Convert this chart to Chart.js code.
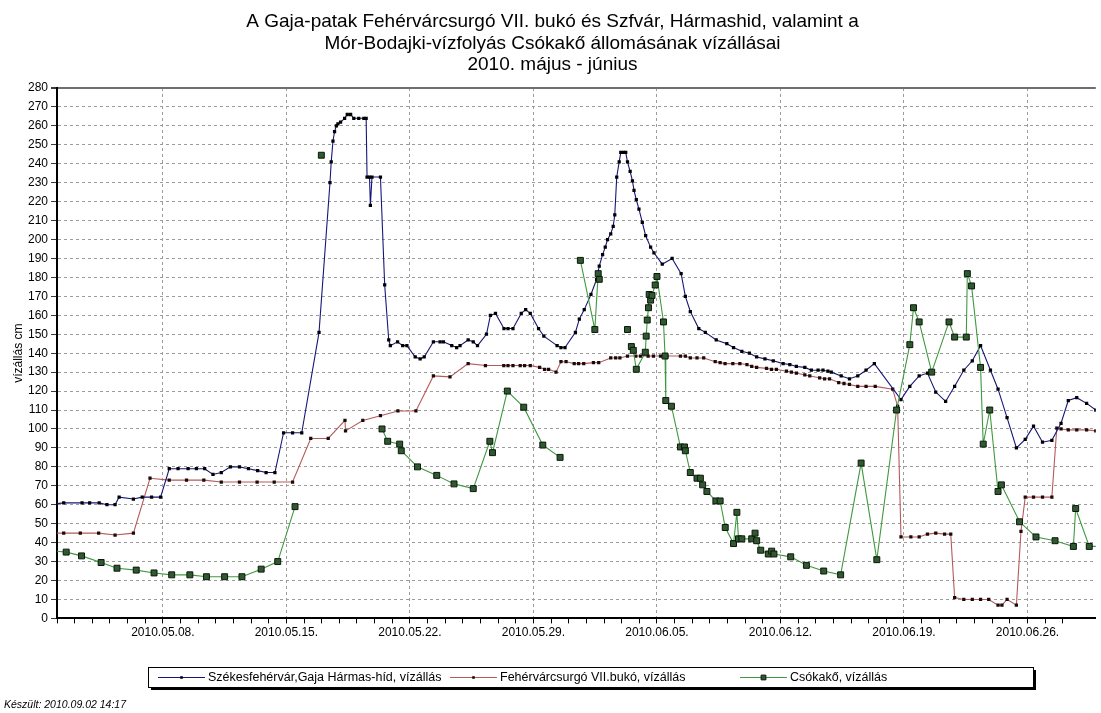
<!DOCTYPE html>
<html>
<head>
<meta charset="utf-8">
<script src="https://cdn.jsdelivr.net/npm/chart.js@4.4.0/dist/chart.umd.min.js"></script>
<style>
  html, body { margin: 0; padding: 0; background: #fff; }
  #wrap { width: 1101px; height: 713px; }
</style>
</head>
<body>
<div id="wrap"><canvas id="chart"></canvas></div>
<script>
// days are counted from 2010.05.01 = 1 (so 2010.06.01 = 32)
var titleLines = [
  'A Gaja-patak Fehérvárcsurgó VII. bukó és Szfvár, Hármashid, valamint a',
  'Mór-Bodajki-vízfolyás Csókakő állomásának vízállásai',
  '2010. május - június'
];
var footerText = 'Készült: 2010.09.02 14:17';
var yTitle = 'vízállás cm';
var weekTicks = [8, 15, 22, 29, 36, 43, 50, 57];

var seriesLabels = [
  'Székesfehérvár,Gaja Hármas-híd, vízállás',
  'Fehérvárcsurgó VII.bukó, vízállás',
  'Csókakő, vízállás'
];

var szfvarDays = [1.4, 2.38, 3.42, 3.85, 4.39, 4.83, 5.29, 5.52, 6.33, 6.83,
  7.36, 7.87, 8.36, 8.86, 9.43, 9.90, 10.37, 10.84, 11.31, 11.83,
  12.34, 12.85, 13.37, 13.85, 14.35, 14.84, 15.35, 15.87, 16.85, 17.47,
  17.54, 17.64, 17.73, 17.83, 17.92, 18.07, 18.3, 18.45, 18.64, 18.82,
  19.1, 19.39, 19.52, 19.57, 19.71, 19.76, 19.85, 20.33, 20.57, 20.8,
  20.89, 21.3, 21.59, 21.83, 22.3, 22.58, 22.81, 23.33, 23.71, 23.9,
  24.37, 24.65, 24.84, 25.3, 25.59, 25.83, 26.34, 26.56, 26.85, 27.33,
  27.56, 27.84, 28.31, 28.56, 28.82, 29.29, 29.59, 30.34, 30.56, 30.79,
  31.38, 31.6, 31.88, 32.26, 32.58, 32.73, 32.92, 33.07, 33.2, 33.38,
  33.52, 33.61, 33.72, 33.86, 33.95, 34.1, 34.23, 34.33, 34.48, 34.61,
  34.7, 34.83, 34.98, 35.17, 35.36, 35.64, 35.83, 36.3, 36.86, 37.37,
  37.61, 37.89, 38.37, 38.74, 39.36, 39.96, 40.34, 40.81, 41.24, 41.65,
  42.12, 42.59, 43.15, 43.53, 43.9, 44.38, 44.75, 45.13, 45.41, 45.69,
  45.88, 46.44, 46.91, 47.38, 47.85, 48.32, 49.83, 50.33, 50.86, 51.33,
  51.8, 52.36, 52.87, 53.39, 53.87, 54.34, 54.9, 55.33, 55.84, 56.37,
  56.87, 57.34, 57.85, 58.38, 58.9, 59.31, 59.79, 60.35, 60.87, 61.4];
var szfvarLevels = [60, 61, 61, 61, 61, 60, 60, 64, 63, 64,
  64, 64, 79, 79, 79, 79, 79, 76, 77, 80,
  80, 79, 78, 77, 77, 98, 98, 98, 151, 230,
  241, 252, 257, 260, 261, 262, 264, 266, 266, 264,
  264, 264, 264, 233, 233, 218, 233, 233, 176, 147,
  144, 146, 144, 144, 138, 137, 138, 146, 146, 146,
  144, 143, 144, 147, 146, 144, 150, 160, 161, 153,
  153, 153, 161, 163, 161, 153, 149, 144, 143, 143,
  151, 158, 163, 171, 179, 186, 192, 196, 200, 203,
  207, 213, 233, 241, 246, 246, 246, 241, 236, 231,
  226, 221, 216, 209, 202, 196, 193, 187, 190, 182,
  170, 162, 153, 151, 147, 145, 143, 141, 140, 138,
  137, 136, 134.5, 134, 133, 132.5, 131, 131, 131, 130.5,
  130, 128, 126.5, 128, 131, 134.5, 115.5, 122.5, 128, 129.5,
  119.5, 114.5, 122.5, 131, 136, 144, 131, 121, 106, 90,
  94.5, 101.5, 93, 94, 103, 115, 116.5, 113.5, 110, 107];

var csurgoDays = [1.4, 2.38, 3.32, 4.36, 5.29, 6.33, 7.27, 8.36, 9.34, 10.32,
  11.31, 12.34, 13.34, 14.31, 15.35, 16.38, 17.37, 18.32, 18.35, 19.33,
  20.33, 21.32, 22.34, 23.33, 24.27, 25.3, 26.28, 27.32, 27.56, 27.84,
  28.25, 28.5, 28.82, 29.35, 29.63, 29.86, 30.28, 30.56, 30.85, 31.31,
  31.56, 31.85, 32.4, 32.7, 33.38, 33.66, 33.9, 34.33, 34.8, 35.07,
  35.5, 35.8, 36.2, 36.56, 37.33, 37.61, 37.89, 38.27, 38.65, 39.3,
  39.58, 39.86, 40.3, 40.7, 41.1, 41.37, 41.65, 42.21, 42.49, 42.77,
  43.34, 43.62, 43.9, 44.38, 44.66, 45.22, 45.5, 45.78, 46.3, 46.6,
  46.91, 47.38, 47.85, 48.37, 49.36, 49.64, 49.83, 50.39, 50.86, 51.33,
  51.8, 52.3, 52.65, 52.87, 53.39, 53.87, 54.34, 54.8, 55.33, 55.55,
  55.84, 56.37, 56.63, 56.87, 57.34, 57.85, 58.38, 58.66, 58.9, 59.31,
  59.79, 60.35, 60.87, 61.4];
var csurgoLevels = [45, 45, 45, 45, 44, 45, 74, 73, 73, 73,
  72, 72, 72, 72, 72, 95, 95, 104.5, 99, 104.5,
  107, 109.5, 109.5, 128, 127.5, 134.5, 133.5, 133.5, 133.5, 133.5,
  133.5, 133.5, 133.5, 132.5, 131.5, 131.5, 130, 135.5, 135.5, 134.5,
  134.5, 134.5, 135, 135, 137.5, 137.5, 137.5, 138.5, 138.5, 138.5,
  138.5, 138.5, 138.5, 138.5, 138.5, 138.5, 137.5, 137.5, 137.5, 135.5,
  135, 134.5, 134.5, 134.5, 134, 133, 132.5, 132, 131.5, 131.5,
  130.5, 130, 129.5, 128.5, 128, 127, 126.5, 126.5, 124.5, 124,
  123.5, 122.5, 122.5, 122.5, 121, 112, 43, 43, 43, 44.5,
  45, 44.5, 44.5, 11, 10, 10, 10, 10, 7, 7,
  10, 7, 46, 64, 64, 64, 64, 100.5, 100, 99.5,
  99.5, 99.5, 99, 98.5];

var csokakoDays = [1.4, 2.52, 3.39, 4.5, 5.4, 6.49, 7.5, 8.5, 9.53, 10.47,
  11.5, 12.48, 13.57, 14.51, 15.49, 16.2, 16.98, 17.8, 20.42, 20.74,
  21.42, 21.51, 22.43, 23.52, 24.5, 25.59, 26.53, 26.68, 27.52, 28.45,
  29.53, 30.51, 31.1, 31.66, 32.48, 32.67, 32.73, 33.5, 34.33, 34.45,
  34.55, 34.66, 34.83, 35.34, 35.39, 35.45, 35.52, 35.56, 35.64, 35.72,
  35.9, 36.0, 36.37, 36.46, 36.5, 36.82, 37.33, 37.56, 37.61, 37.89,
  38.27, 38.46, 38.59, 38.83, 39.34, 39.58, 39.87, 40.34, 40.53, 40.62,
  40.81, 41.37, 41.56, 41.65, 41.88, 42.31, 42.5, 42.63, 43.58, 44.47,
  45.45, 46.41, 47.57, 48.46, 49.58, 50.33, 50.54, 50.86, 51.57, 52.55,
  52.87, 53.53, 53.59, 53.83, 54.34, 54.49, 54.86, 55.33, 55.52, 56.55,
  57.48, 58.56, 59.6, 59.73, 60.5, 61.4];
var csokakoLevels = [36, 35, 33, 29.5, 26.5, 25.5, 24, 23, 23, 22,
  22, 22, 26, 30, 59, null, 244.5, null, 100, 93.5,
  92, 88.5, 80, 75.5, 71, 68.5, 93.5, 87.5, 120, 111.5,
  91.5, 85, null, 189, 152.5, 182, 179, null, 152.5, null,
  143.5, 141.5, 131.5, 140.5, 149, 157.5, 164, 171, 168, 170.5,
  176, 180.5, 156.5, 138.5, 115, 112, 90.5, 90.5, 88.5, 77,
  74, 74, 70.5, 67, 62, 62, 48, 39.5, 56, 42,
  42, 42, 45, 41, 36, 34, 35.5, 34, 32.5, 28,
  25, 23, 82, 31, 110, 144.5, 164, 156.5, 130, 156.5,
  148.5, 148.5, 182, 175.5, 132.5, 92, 110, 67, 70.5, 51,
  43, 41, 38, 58, 38, 38];

var FONT = '"Liberation Sans", Arial, sans-serif';

function pad2(n) { return (n < 10 ? '0' : '') + n; }

function dayLabel(v) {
  var d = new Date(2010, 4, 1);
  d.setDate(d.getDate() + v - 1);
  return d.getFullYear() + '.' + pad2(d.getMonth() + 1) + '.' + pad2(d.getDate()) + '.';
}

function makePoints(days, levels) {
  return days.map(function (d, i) { return { x: d, y: levels[i] }; });
}

// legend in a framed box with a drop shadow, like the original
var boxLegend = {
  id: 'boxLegend',
  afterDraw: function (chart, args, opts) {
    var ctx = chart.ctx;
    ctx.save();
    ctx.fillStyle = '#000';
    ctx.fillRect(opts.left + 3, opts.top + 3, opts.width, opts.height);
    ctx.fillStyle = '#fff';
    ctx.fillRect(opts.left, opts.top, opts.width, opts.height);
    ctx.strokeStyle = '#000';
    ctx.lineWidth = 1;
    ctx.strokeRect(opts.left + 0.5, opts.top + 0.5, opts.width, opts.height);

    var yMid = opts.top + opts.height / 2 + 0.5;
    ctx.font = '12.5px ' + FONT;
    ctx.textBaseline = 'middle';
    chart.data.datasets.forEach(function (ds, i) {
      var x0 = opts.itemX[i];
      ctx.strokeStyle = ds.borderColor;
      ctx.lineWidth = 1;
      ctx.beginPath();
      ctx.moveTo(x0, yMid);
      ctx.lineTo(x0 + opts.iconWidth, yMid);
      ctx.stroke();
      ctx.fillStyle = ds.pointBackgroundColor;
      ctx.strokeStyle = ds.pointBorderColor;
      ctx.lineWidth = ds.pointBorderWidth;
      Chart.helpers.drawPoint(ctx, {
        pointStyle: 'rect', rotation: 0,
        radius: ds.pointRadius * 0.8, borderWidth: ds.pointBorderWidth
      }, x0 + opts.iconWidth / 2, yMid);
      ctx.fillStyle = '#000';
      ctx.fillText(ds.label, x0 + opts.iconWidth + 3, yMid);
    });
    ctx.restore();
  }
};

new Chart(document.getElementById('chart'), {
  type: 'line',
  data: {
    datasets: [
      {
        label: seriesLabels[0],
        data: makePoints(szfvarDays, szfvarLevels),
        borderColor: '#16167a',
        borderWidth: 1.1,
        pointStyle: 'rect',
        pointRadius: 2.3,
        pointBackgroundColor: '#000',
        pointBorderColor: '#000',
        pointBorderWidth: 0,
        order: 1
      },
      {
        label: seriesLabels[1],
        data: makePoints(csurgoDays, csurgoLevels),
        borderColor: '#b65a5a',
        borderWidth: 1.1,
        pointStyle: 'rect',
        pointRadius: 2.3,
        pointBackgroundColor: '#1a0a0a',
        pointBorderColor: '#1a0a0a',
        pointBorderWidth: 0,
        order: 2
      },
      {
        label: seriesLabels[2],
        data: makePoints(csokakoDays, csokakoLevels),
        borderColor: '#3f993f',
        borderWidth: 1.1,
        pointStyle: 'rect',
        pointRadius: 4.2,
        pointBackgroundColor: '#2f5a2f',
        pointBorderColor: '#0d160d',
        pointBorderWidth: 1,
        spanGaps: false,
        order: 0
      }
    ]
  },
  options: {
    responsive: true,
    maintainAspectRatio: false,
    animation: false,
    events: [],
    layout: { padding: { left: 4, right: 0, top: 0, bottom: 0 } },
    plugins: {
      legend: { display: false },
      tooltip: { enabled: false },
      title: {
        display: true,
        text: titleLines,
        color: '#000',
        font: { family: FONT, size: 19, weight: 'normal', lineHeight: 1.14 },
        padding: { top: 11, bottom: 12 }
      },
      subtitle: {
        display: true,
        position: 'bottom',
        align: 'start',
        text: footerText,
        color: '#000',
        font: { family: FONT, size: 10.5, style: 'italic', lineHeight: 1.2 },
        padding: { top: 0, bottom: 2 }
      },
      boxLegend: { left: 148, top: 667, width: 885, height: 20, iconWidth: 47, itemX: [158, 450, 740] }
    },
    scales: {
      x: {
        type: 'linear',
        min: 2,
        max: 60.87,
        afterFit: function (scale) { scale.height = 80; },
        ticks: {
          stepSize: 1,
          autoSkip: false,
          maxRotation: 0,
          padding: 2,
          color: '#000',
          font: { family: FONT, size: 12 },
          callback: function (v) { return weekTicks.indexOf(v) >= 0 ? dayLabel(v) : ''; }
        },
        grid: {
          color: function (c) { return c.tick && weekTicks.indexOf(c.tick.value) >= 0 ? '#9c9c9c' : 'rgba(0,0,0,0)'; },
          tickColor: function (c) { return c.tick && Number.isInteger(c.tick.value) ? '#000' : 'rgba(0,0,0,0)'; },
          tickLength: 5,
          lineWidth: 1
        },
        border: { display: true, color: '#000', width: 2, dash: [3, 3] }
      },
      y: {
        min: 0,
        max: 280,
        afterFit: function (scale) { scale.width = 53; },
        ticks: {
          stepSize: 10,
          padding: 3,
          color: '#000',
          font: { family: FONT, size: 12 }
        },
        title: {
          display: true,
          text: yTitle,
          color: '#000',
          font: { family: FONT, size: 12 },
          padding: { top: 7, bottom: 0 }
        },
        grid: {
          color: function (c) {
            if (!c.tick) return '#9c9c9c';
            if (c.tick.value === 0) return 'rgba(0,0,0,0)';
            return c.tick.value === 280 ? '#6e6e6e' : '#9c9c9c';
          },
          lineWidth: function (c) { return c.tick && c.tick.value === 280 ? 2 : 1; },
          tickColor: '#3a3a3a',
          tickLength: 6
        },
        border: {
          display: true, color: '#000', width: 2,
          dash: function (c) { return c.tick && c.tick.value === 280 ? [] : [3, 3]; }
        }
      }
    }
  },
  plugins: [boxLegend]
});
</script>
</body>
</html>
